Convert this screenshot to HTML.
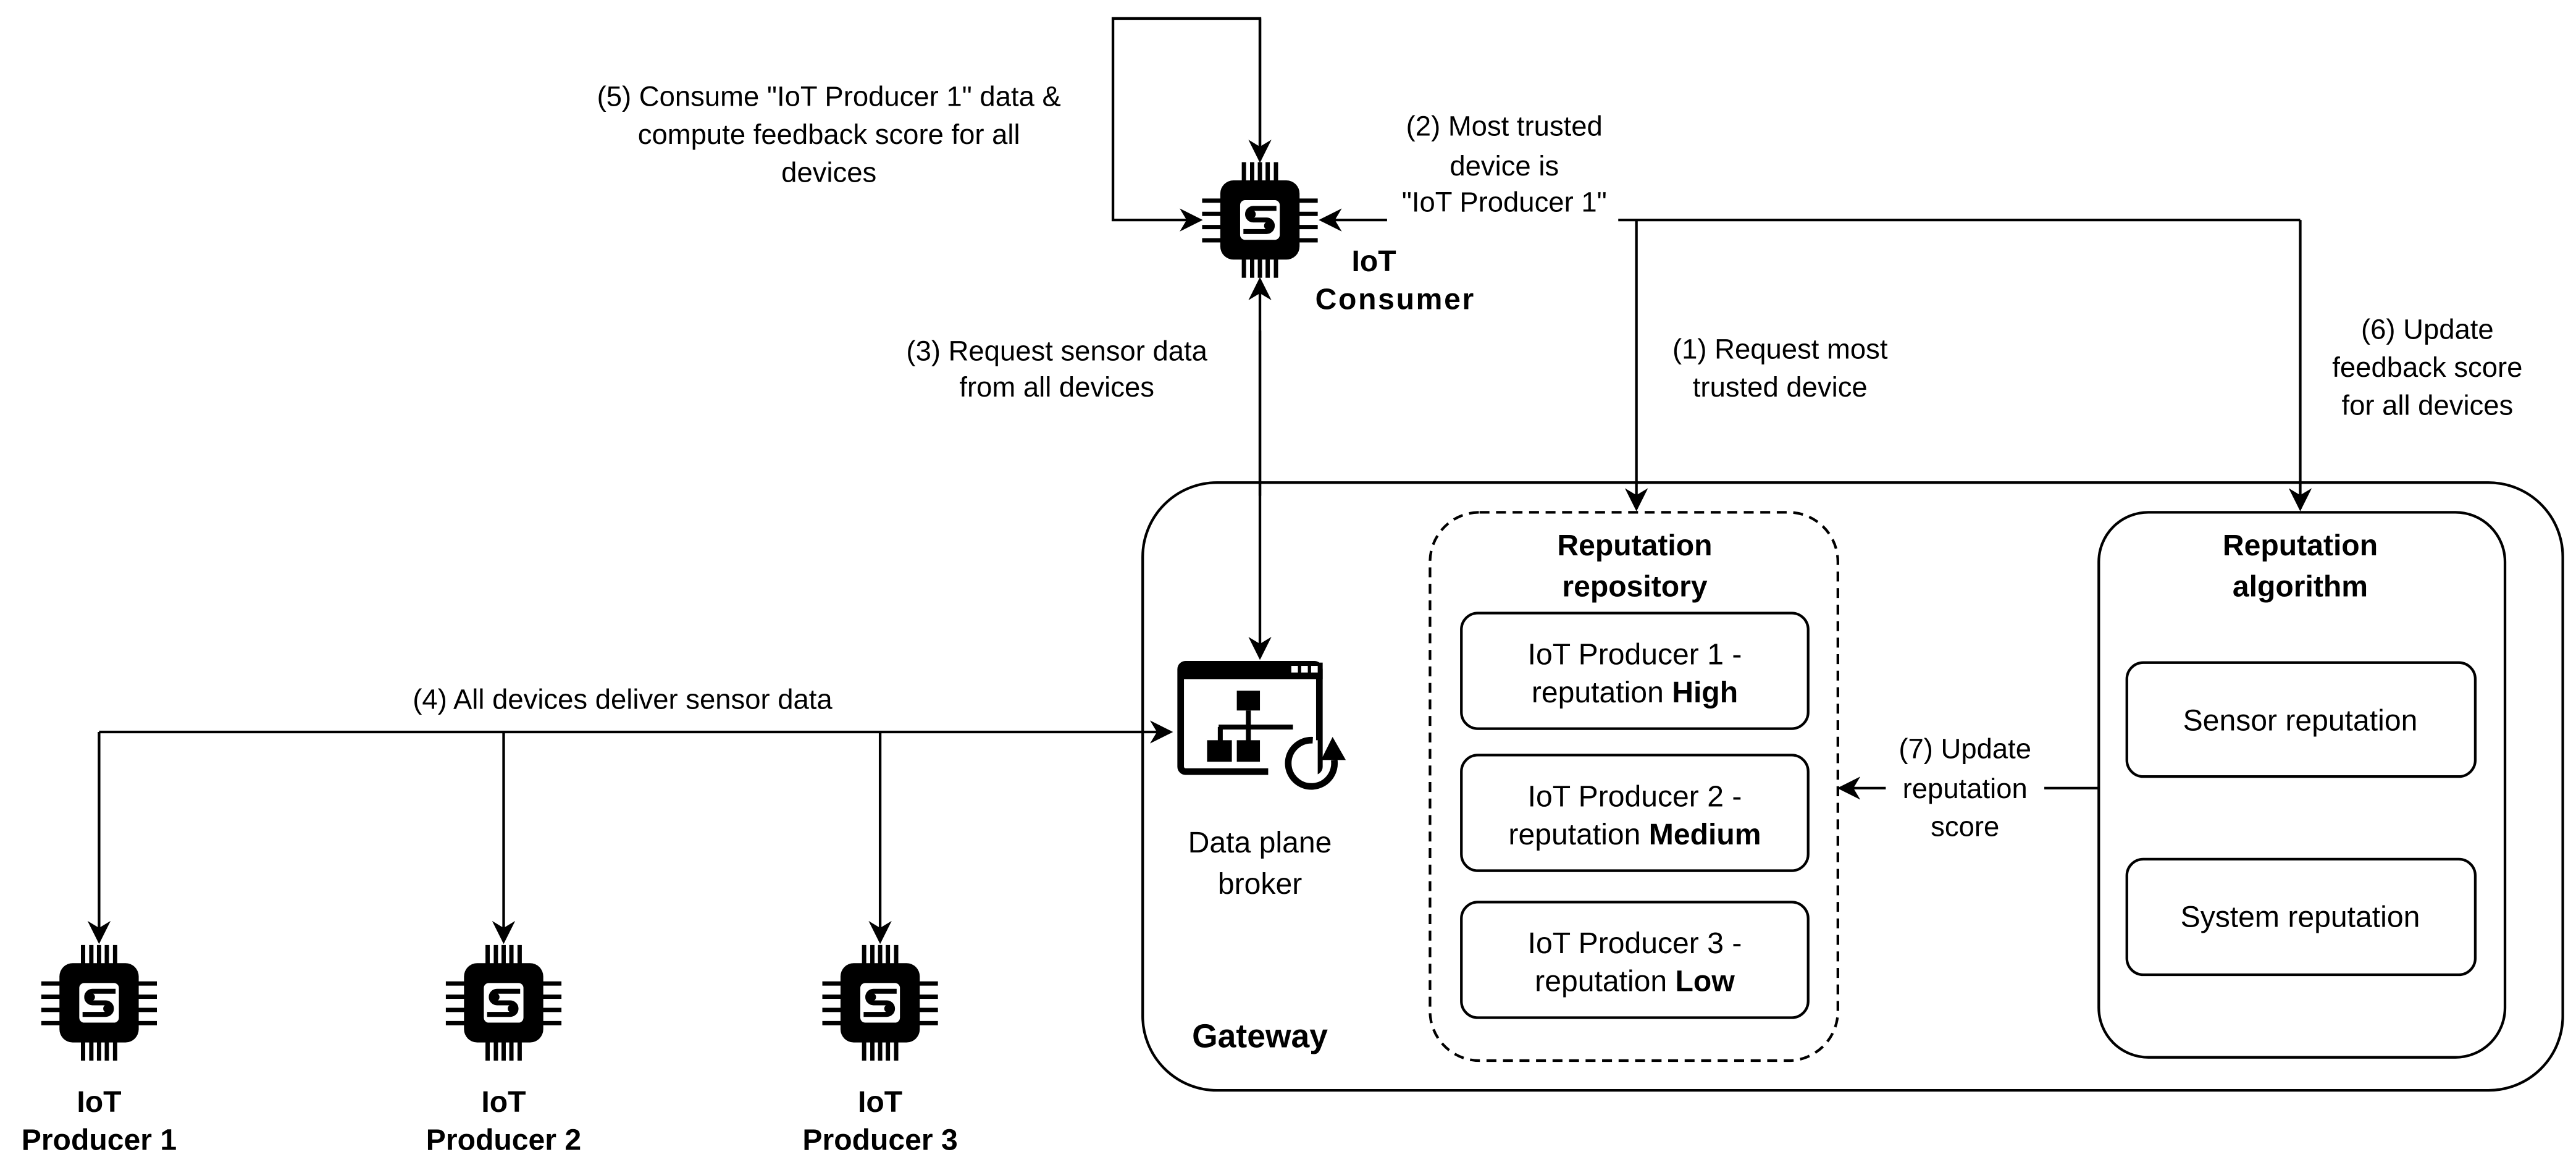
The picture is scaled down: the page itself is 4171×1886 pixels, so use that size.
<!DOCTYPE html>
<html><head><meta charset="utf-8"><style>
html,body{margin:0;padding:0;background:#fff}
svg{display:block}
text{font-family:"Liberation Sans",Arial,sans-serif;font-size:17px;fill:#000;text-anchor:middle}
.b{font-weight:bold}
</style></head><body>
<svg width="4171" height="1886" viewBox="0 0 1560 705" xmlns="http://www.w3.org/2000/svg">
<defs>
<marker id="a" viewBox="0 0 10 10" refX="9" refY="5" markerWidth="14" markerHeight="14" markerUnits="userSpaceOnUse" orient="auto">
<path d="M0,0 L10,5 L0,10 L3,5 z" fill="#000"/></marker>
<g id="chip">
<rect x="-24" y="-24" width="48" height="48" rx="8" fill="#000"/>
<g fill="#000">
<rect x="-11" y="-35" width="2.6" height="12"/><rect x="-6" y="-35" width="2.6" height="12"/><rect x="-1.3" y="-35" width="2.6" height="12"/><rect x="3.4" y="-35" width="2.6" height="12"/><rect x="8.4" y="-35" width="2.6" height="12"/>
<rect x="-11" y="23" width="2.6" height="12"/><rect x="-6" y="23" width="2.6" height="12"/><rect x="-1.3" y="23" width="2.6" height="12"/><rect x="3.4" y="23" width="2.6" height="12"/><rect x="8.4" y="23" width="2.6" height="12"/>
<rect x="-35" y="-13" width="12" height="2.6"/><rect x="-35" y="-5" width="12" height="2.6"/><rect x="-35" y="3" width="12" height="2.6"/><rect x="-35" y="11" width="12" height="2.6"/>
<rect x="23" y="-13" width="12" height="2.6"/><rect x="23" y="-5" width="12" height="2.6"/><rect x="23" y="3" width="12" height="2.6"/><rect x="23" y="11" width="12" height="2.6"/>
</g>
<rect x="-12" y="-12" width="24" height="24" rx="3" fill="#fff"/>
<path d="M10,-7 H-4 A3.5,3.5 0 0 0 -4,0 H4 A3.5,3.5 0 0 1 4,7 H-10" stroke="#000" stroke-width="3" fill="none"/>
<circle cx="-5" cy="-3.5" r="2.5" fill="#000"/><circle cx="5" cy="3.5" r="2.5" fill="#000"/>
</g>
</defs>
<g fill="none" stroke="#000" stroke-width="1.6">
<polyline points="763,97 763,11 674,11 674,133 727,133" marker-end="url(#a)"/>
<line x1="763" y1="11" x2="763" y2="97" marker-end="url(#a)"/>
<polyline points="1393,133 800,133" marker-end="url(#a)"/>
<line x1="1393" y1="133" x2="1393" y2="308" marker-end="url(#a)"/>
<line x1="991" y1="133" x2="991" y2="308" marker-end="url(#a)"/>
<line x1="763" y1="300" x2="763" y2="169" marker-end="url(#a)"/>
<line x1="763" y1="200" x2="763" y2="398" marker-end="url(#a)"/>
<polyline points="60,443 709,443" marker-end="url(#a)"/>
<line x1="60" y1="443" x2="60" y2="570" marker-end="url(#a)"/>
<line x1="305" y1="443" x2="305" y2="570" marker-end="url(#a)"/>
<line x1="533" y1="443" x2="533" y2="570" marker-end="url(#a)"/>
<rect x="692" y="292" width="860" height="368" rx="45"/>
<rect x="866" y="310" width="247" height="332" rx="30" stroke-dasharray="6,4"/>
<rect x="885" y="371" width="210" height="70" rx="10"/>
<rect x="885" y="457" width="210" height="70" rx="10"/>
<rect x="885" y="546" width="210" height="70" rx="10"/>
<rect x="1271" y="310" width="246" height="330" rx="30"/>
<rect x="1288" y="401" width="211" height="69" rx="10"/>
<rect x="1288" y="520" width="211" height="70" rx="10"/>
<line x1="1271" y1="477" x2="1114" y2="477" marker-end="url(#a)"/>
</g>
<rect x="840" y="120" width="140" height="18" fill="#fff"/>
<rect x="1142" y="440" width="96" height="68" fill="#fff"/>
<use href="#chip" x="763" y="133"/>
<use href="#chip" x="60" y="607"/>
<use href="#chip" x="305" y="607"/>
<use href="#chip" x="533" y="607"/>
<g>
<rect x="715" y="402" width="84" height="65" rx="3" fill="none" stroke="#000" stroke-width="4"/>
<rect x="715" y="401" width="86" height="10" fill="#000"/>
<rect x="782" y="403" width="4" height="4" fill="#fff"/><rect x="788" y="403" width="4" height="4" fill="#fff"/><rect x="794" y="403" width="4" height="4" fill="#fff"/>
<rect x="749" y="418" width="14" height="12" fill="#000"/>
<line x1="756" y1="430" x2="756" y2="455" stroke="#000" stroke-width="3"/>
<line x1="738" y1="440" x2="783" y2="440" stroke="#000" stroke-width="3"/>
<line x1="739" y1="440" x2="739" y2="450" stroke="#000" stroke-width="3"/>
<rect x="731" y="448" width="15" height="13" fill="#000"/><rect x="749" y="448" width="14" height="13" fill="#000"/>
<rect x="768" y="448" width="30" height="30" fill="#fff"/>
<path d="M808,460 A14,14 0 1 1 795,448" fill="none" stroke="#000" stroke-width="4"/>
<path d="M800,460 L807,446 L815,460 z" fill="#000"/>
</g>
<text x="502" y="64">(5) Consume "IoT Producer 1" data &amp;</text>
<text x="502" y="87">compute feedback score for all</text>
<text x="502" y="110">devices</text>
<text x="911" y="82">(2) Most trusted</text>
<text x="911" y="106">device is</text>
<text x="911" y="128">"IoT Producer 1"</text>
<text class="b" x="832" y="164" style="font-size:18px">IoT</text>
<text class="b" x="845" y="187" style="font-size:18px;letter-spacing:1px">Consumer</text>
<text x="640" y="218">(3) Request sensor data</text>
<text x="640" y="240">from all devices</text>
<text x="1078" y="217">(1) Request most</text>
<text x="1078" y="240">trusted device</text>
<text x="1470" y="205">(6) Update</text>
<text x="1470" y="228">feedback score</text>
<text x="1470" y="251">for all devices</text>
<text x="377" y="429">(4) All devices deliver sensor data</text>
<text class="b" x="990" y="336" style="font-size:18px">Reputation</text>
<text class="b" x="990" y="361" style="font-size:18px">repository</text>
<text class="b" x="1393" y="336" style="font-size:18px">Reputation</text>
<text class="b" x="1393" y="361" style="font-size:18px">algorithm</text>
<text x="990" y="402" style="font-size:18px">IoT Producer 1 -</text>
<text x="990" y="425" style="font-size:18px">reputation <tspan class="b">High</tspan></text>
<text x="990" y="488" style="font-size:18px">IoT Producer 2 -</text>
<text x="990" y="511" style="font-size:18px">reputation <tspan class="b">Medium</tspan></text>
<text x="990" y="577" style="font-size:18px">IoT Producer 3 -</text>
<text x="990" y="600" style="font-size:18px">reputation <tspan class="b">Low</tspan></text>
<text x="1393" y="442" style="font-size:18px">Sensor reputation</text>
<text x="1393" y="561" style="font-size:18px">System reputation</text>
<text x="1190" y="459">(7) Update</text>
<text x="1190" y="483">reputation</text>
<text x="1190" y="506">score</text>
<text x="763" y="516" style="font-size:18px">Data plane</text>
<text x="763" y="541" style="font-size:18px">broker</text>
<text class="b" x="763" y="634" style="font-size:20px">Gateway</text>
<text class="b" x="60" y="673" style="font-size:18px">IoT</text>
<text class="b" x="60" y="696" style="font-size:18px">Producer 1</text>
<text class="b" x="305" y="673" style="font-size:18px">IoT</text>
<text class="b" x="305" y="696" style="font-size:18px">Producer 2</text>
<text class="b" x="533" y="673" style="font-size:18px">IoT</text>
<text class="b" x="533" y="696" style="font-size:18px">Producer 3</text>
</svg>
</body></html>
